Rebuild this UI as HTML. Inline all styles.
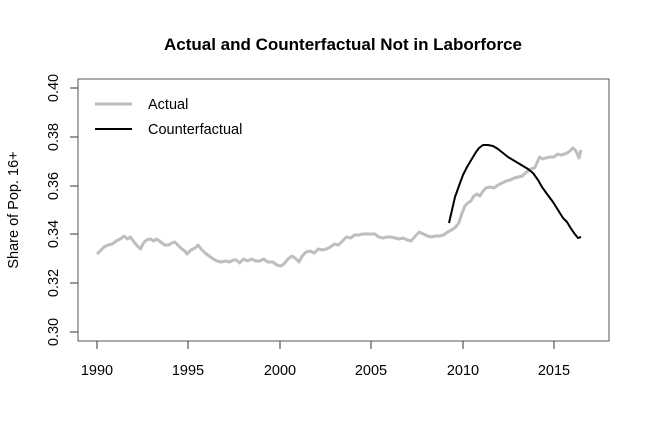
<!DOCTYPE html>
<html><head><style>body{margin:0;background:#fff}svg{display:block}</style></head><body>
<svg width="650" height="440" xmlns="http://www.w3.org/2000/svg" font-family="Liberation Sans, sans-serif">
<rect width="650" height="440" fill="#fff"/>
<text x="343" y="50" font-size="17" font-weight="bold" text-anchor="middle">Actual and Counterfactual Not in Laborforce</text>
<rect x="78" y="79" width="531" height="262" fill="none" stroke="#555" stroke-width="1"/>
<g stroke="#333" stroke-width="1">
<line x1="78" y1="88" x2="70" y2="88"/><line x1="78" y1="137" x2="70" y2="137"/><line x1="78" y1="186" x2="70" y2="186"/><line x1="78" y1="234" x2="70" y2="234"/><line x1="78" y1="283" x2="70" y2="283"/><line x1="78" y1="332" x2="70" y2="332"/>
<line x1="97" y1="341" x2="97" y2="349"/><line x1="188" y1="341" x2="188" y2="349"/><line x1="280" y1="341" x2="280" y2="349"/><line x1="371" y1="341" x2="371" y2="349"/><line x1="463" y1="341" x2="463" y2="349"/><line x1="554" y1="341" x2="554" y2="349"/>
</g>
<g font-size="14.5" text-anchor="middle">
<text transform="translate(58,88) rotate(-90)">0.40</text>
<text transform="translate(58,137) rotate(-90)">0.38</text>
<text transform="translate(58,186) rotate(-90)">0.36</text>
<text transform="translate(58,234) rotate(-90)">0.34</text>
<text transform="translate(58,283) rotate(-90)">0.32</text>
<text transform="translate(58,332) rotate(-90)">0.30</text>
<text transform="translate(18,210) rotate(-90)">Share of Pop. 16+</text>
<text x="97" y="375">1990</text><text x="188" y="375">1995</text><text x="280" y="375">2000</text><text x="371" y="375">2005</text><text x="463" y="375">2010</text><text x="554" y="375">2015</text>
</g>
<line x1="95" y1="104" x2="132" y2="104" stroke="#bebebe" stroke-width="3"/>
<line x1="95" y1="129" x2="132" y2="129" stroke="#000" stroke-width="2"/>
<text x="148" y="109" font-size="14.5">Actual</text>
<text x="148" y="134" font-size="14.5">Counterfactual</text>
<polyline transform="translate(97,0) scale(1.0104,1) translate(-97,0)" fill="none" stroke="#bebebe" stroke-width="3" stroke-linejoin="round" points="97,254 100,251 104,247 108,245 112,244 116,241 120,239 124,236 127,239 130,237 133,241 136,245 140,249 143,243 146,240 150,239 153,241 156,239 160,242 164,245 168,245 171,243 174,242 178,246 181,249 184,251 186,254 190,250 194,248 197,245 200,249 204,253 208,256 212,259 216,261 220,262 224,261 228,262 232,260 235,260 238,263 242,259 246,261 250,259 254,261 258,261 262,259 266,262 271,262 275,265 279,266 282,264 286,259 290,256 293,258 297,262 300,256 304,252 308,251 312,253 316,249 320,250 324,249 328,247 332,244 336,245 340,241 344,237 348,238 352,235 356,235 360,234 364,234 368,234 372,234 376,237 380,238 384,237 388,237 392,238 396,239 400,238 404,240 408,241 412,236 416,232 420,234 424,236 428,237 432,236 436,236 440,235 444,232 448,230 452,227 455,223 458,214 461,206 464,203 467,201 470,196 473,194 476,196 479,191 482,188 486,187 490,188 494,185 498,183 502,181 506,180 510,178 514,177 518,176 522,172 526,169 530,168 532,164 535,157 538,159 541,158 545,157 549,157 553,154 556,155 560,154 564,152 568,148 571,151 574,158 576,150"/>
<polyline fill="none" stroke="#000" stroke-width="2" stroke-linejoin="round" points="449,223 452,210 455,197 460,183 463,175 467,167 470,162 473,157 476,152 479,148 483,145 488,145 493,146 498,149 503,153 508,157 513,160 518,163 523,166 528,169 533,173 538,180 542,187 547,194 553,202 558,210 563,218 567,222 570,227 574,233 578,238 581,237"/>
</svg>
</body></html>
